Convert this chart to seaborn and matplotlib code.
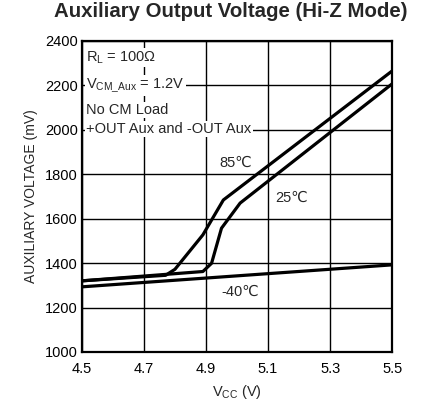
import matplotlib
matplotlib.use("Agg")
import matplotlib.pyplot as plt
import numpy as np
import pandas as pd
import seaborn as sns

# Measured supply sweep points for each temperature (V, mV)
vcc_85 = [4.5, 4.77, 4.80, 4.89, 4.956, 5.5]
aux_85 = [1320, 1345, 1372, 1527, 1684, 2265]

vcc_25 = [4.5, 4.89, 4.918, 4.95, 5.01, 5.5]
aux_25 = [1320, 1362, 1399, 1557, 1670, 2207]

vcc_m40 = [4.5, 5.5]
aux_m40 = [1293, 1392]

temps = ["85℃", "25℃", "-40℃"]
x_ticks = [4.5, 4.7, 4.9, 5.1, 5.3, 5.5]
y_ticks = [1000, 1200, 1400, 1600, 1800, 2000, 2200, 2400]

df = pd.concat([
    pd.DataFrame({"vcc": vcc_85, "aux": aux_85, "temp": temps[0]}),
    pd.DataFrame({"vcc": vcc_25, "aux": aux_25, "temp": temps[1]}),
    pd.DataFrame({"vcc": vcc_m40, "aux": aux_m40, "temp": temps[2]}),
])

sns.set_theme(style="white")
plt.rcParams["font.family"] = ["Liberation Sans", "DejaVu Sans"]

fig = plt.figure(figsize=(4.24, 4.05), dpi=100)
ax = fig.add_axes([0.193, 0.131, 0.732, 0.768])

sns.lineplot(data=df, x="vcc", y="aux", hue="temp", units="temp", estimator=None,
             palette={t: "black" for t in temps}, linewidth=2.3, legend=False,
             sort=False, ax=ax, zorder=3)

ax.set_xlim(4.5, 5.5)
ax.set_ylim(1000, 2400)
ax.set_xticks(x_ticks)
ax.set_yticks(y_ticks)
ax.set_xticklabels([f"{v:.1f}" for v in x_ticks], fontsize=10.5)
ax.set_yticklabels([str(v) for v in y_ticks], fontsize=10.5)
ax.tick_params(axis="x", length=0, pad=7, colors="black")
ax.tick_params(axis="y", length=0, pad=3, colors="black")
ax.grid(True, color="black", linewidth=1.0)
for s in ax.spines.values():
    s.set_color("black")
    s.set_linewidth(1.6)

ax.set_xlabel("V$_{\\mathregular{CC}}$ (V)", fontsize=10.5, labelpad=5)
ax.set_ylabel("AUXILIARY VOLTAGE (mV)", fontsize=10, labelpad=5)
ax.set_title("Auxiliary Output Voltage (Hi-Z Mode)", fontsize=14.7,
             fontweight="bold", pad=17, x=0.48)

# Test conditions, each line on its own white backing
cond = ["R$_{\\mathregular{L}}$ = 100Ω",
        "V$_{\\mathregular{CM\\_Aux}}$ = 1.2V",
        "No CM Load",
        "+OUT Aux and -OUT Aux"]
cond_y = [2325, 2198, 2088, 2002]
for txt, yv in zip(cond, cond_y):
    ax.text(4.515, yv, txt, fontsize=10.5, va="center", ha="left", zorder=2,
            bbox=dict(facecolor="white", edgecolor="none", pad=0.8))

# Curve labels
ax.text(4.997, 1851, temps[0], fontsize=10.5, ha="center", va="center", zorder=4)
ax.text(5.177, 1693, temps[1], fontsize=10.5, ha="center", va="center", zorder=4)
ax.text(5.01, 1270, temps[2], fontsize=10.5, ha="center", va="center", zorder=4)

fig.savefig("out.png", dpi=100)
